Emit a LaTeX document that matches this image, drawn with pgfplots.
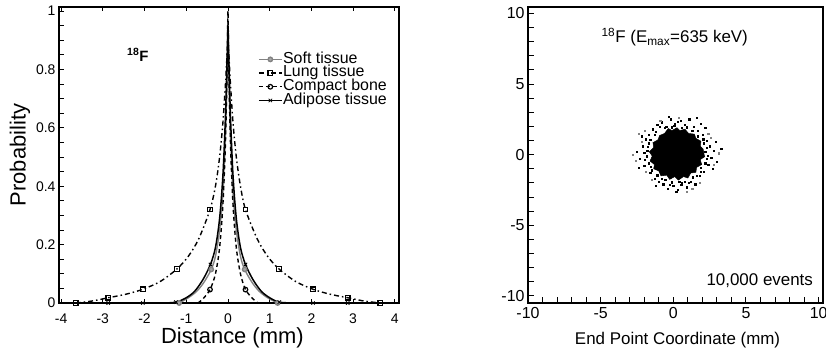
\documentclass[border=0pt]{standalone}
\usepackage{fontspec}
\setmainfont{Liberation Sans}
\usepackage{pgfplots}
\pgfplotsset{compat=1.18}
\definecolor{softgray}{RGB}{130,130,130}
\begin{document}
\begin{tikzpicture}
\useasboundingbox (0,0) rectangle (826bp,356bp);
% ---------------- left panel ----------------
\begin{axis}[
  at={(59bp,53bp)}, anchor=south west,
  scale only axis, width=340bp, height=296bp,
  xmin=-4.05, xmax=4.1, ymin=0, ymax=1.014,
  axis line style={line width=1.5bp},
  tick align=inside,
  xtick={-4,-3,...,4}, ytick={0,0.2,...,1.0},
  minor y tick num=3,
  xtick pos=both, ytick pos=left,
  major tick length=4.5bp, minor tick length=4.5bp,
  every tick/.style={black, line width=0.9bp},
  xticklabel={\hbox{\fontsize{14}{16}\selectfont\pgfmathprintnumber[assume math mode=true]{\tick}}},
  yticklabel={\hbox{\fontsize{14}{16}\selectfont\pgfmathprintnumber[assume math mode=true]{\tick}}},
  xticklabel style={yshift=-7bp},
  xlabel={Distance (mm)}, ylabel={Probability},
  label style={font=\fontsize{22}{24}\selectfont},
  xlabel style={at={(axis description cs:0.51,-0.117)}, anchor=center},
  ylabel style={at={(axis description cs:-0.115,0.5)}, anchor=center},
  clip=true,
  legend cell align=left,
  legend style={at={(axis description cs:0.585,0.846)}, anchor=north west,
    draw=none, fill=none, font=\fontsize{16}{16}\selectfont,
    row sep=0.5bp, inner sep=0pt, nodes={inner sep=0.5bp, text height=9.8bp, text depth=2.4bp}},
  legend image code/.code={\draw[#1, mark indices={2}] plot coordinates {(0bp,0bp) (11.5bp,0bp) (23bp,0bp)};},
]
% Soft tissue
\addplot[softgray, line width=1.4bp, smooth, tension=0.5, mark=*, mark size=2.2bp,
  mark options={solid, fill=softgray!70, draw=softgray}, mark indices={1,5,17,21}]
  coordinates {(-1.17,0) (-0.95,0.018) (-0.75,0.04) (-0.58,0.07) (-0.40,0.115) (-0.3,0.16)
  (-0.2,0.25) (-0.12,0.38) (-0.06,0.58) (-0.02,0.78) (0,0.85) (0.02,0.78) (0.06,0.58)
  (0.12,0.38) (0.2,0.25) (0.3,0.16) (0.40,0.115) (0.58,0.07) (0.75,0.04) (0.95,0.018) (1.19,0)};
\addlegendentry{Soft tissue}
% Lung tissue
\addplot[black, line width=1.4bp, dash pattern=on 5bp off 3bp on 1.5bp off 3bp, smooth, tension=0.5,
  mark=square, mark size=2.3bp, mark options={solid, line width=1.2bp},
  mark indices={1,3,5,7,10,20,23,25,27,29}]
  coordinates {(-3.65,0) (-3.25,0.007) (-2.87,0.018) (-2.45,0.03) (-2.04,0.047) (-1.62,0.074)
  (-1.22,0.117) (-0.95,0.16) (-0.7,0.22) (-0.43,0.32) (-0.3,0.40) (-0.2,0.50) (-0.12,0.62)
  (-0.06,0.75) (0,0.88) (0.06,0.75) (0.12,0.62) (0.2,0.5) (0.3,0.4) (0.42,0.32) (0.7,0.22)
  (0.95,0.16) (1.22,0.117) (1.62,0.074) (2.04,0.047) (2.45,0.03) (2.87,0.018) (3.25,0.007) (3.65,0)};
\addlegendentry{Lung tissue}
% Compact bone
\addplot[black, line width=1.4bp, dash pattern=on 4bp off 3bp, smooth, tension=0.5,
  mark=o, mark size=2.3bp, mark options={solid, line width=1.2bp}, mark indices={3,15}]
  coordinates {(-0.72,0) (-0.6,0.014) (-0.43,0.046) (-0.3,0.1) (-0.2,0.19) (-0.12,0.34)
  (-0.06,0.55) (-0.02,0.8) (0,1.0) (0.02,0.8) (0.06,0.55) (0.12,0.34) (0.2,0.19) (0.3,0.1)
  (0.42,0.046) (0.6,0.014) (0.72,0)};
\addlegendentry{Compact bone}
% Adipose tissue
\addplot[black, line width=1.5bp, smooth, tension=0.5,
  mark=x, mark size=2.4bp, mark options={solid, line width=0.8bp}, mark indices={1,2,4,8,20,24,26,27}]
  coordinates {(-2.87,0) (-2.04,0) (-1.6,0) (-1.25,0.003) (-1.0,0.018) (-0.8,0.04) (-0.6,0.08)
  (-0.42,0.132) (-0.3,0.19) (-0.2,0.29) (-0.12,0.44) (-0.06,0.64) (-0.02,0.84) (0,0.95)
  (0.02,0.84) (0.06,0.64) (0.12,0.44) (0.2,0.29) (0.3,0.19) (0.42,0.132) (0.6,0.08) (0.8,0.04)
  (1.0,0.018) (1.23,0.003) (1.6,0) (2.04,0) (2.87,0)};
\addlegendentry{Adipose tissue}
\node[font=\fontsize{15}{17}\selectfont\bfseries] at (axis cs:-2.16,0.85) {\textsuperscript{18}F};
\end{axis}
% ---------------- right panel ----------------
\begin{axis}[
  at={(528bp,53bp)}, anchor=south west,
  scale only axis, width=295bp, height=296bp,
  xmin=-10, xmax=10.3, ymin=-10.5, ymax=10.45,
  axis line style={line width=1.5bp},
  tick align=inside,
  xtick={-10,-5,...,10}, ytick={-10,-5,...,10},
  minor tick num=4,
  xtick pos=bottom, ytick pos=left,
  major tick length=6bp, minor tick length=6bp,
  every tick/.style={black, line width=1bp},
  xticklabel={\hbox{\fontsize{16}{18}\selectfont\pgfmathprintnumber[assume math mode=true]{\tick}}},
  yticklabel={\hbox{\fontsize{16}{18}\selectfont\pgfmathprintnumber[assume math mode=true]{\tick}}},
  xticklabel style={yshift=-1bp},
  xlabel={End Point Coordinate (mm)},
  xlabel style={font=\fontsize{17}{19}\selectfont, at={(axis description cs:0.507,-0.125)}, anchor=center},
  clip=true,
]
% dense core of the end-point cloud
\addplot[fill=black, draw=black, line width=0.5bp] coordinates {
  (2.1,0.1) (2.05,0.4) (1.85,0.6) (1.9,0.95) (1.55,1.15) (1.45,1.45) (1.05,1.5) (0.8,1.8)
  (0.45,1.7) (0.25,1.9) (-0.1,1.7) (-0.35,1.85) (-0.6,1.5) (-0.95,1.35) (-1.05,1.05)
  (-1.4,0.85) (-1.35,0.5) (-1.65,0.2) (-1.45,-0.1) (-1.6,-0.45) (-1.3,-0.7) (-1.35,-1.0)
  (-1.0,-1.15) (-0.85,-1.5) (-0.45,-1.45) (-0.25,-1.75) (0.1,-1.55) (0.35,-1.8) (0.7,-1.55)
  (1.0,-1.65) (1.2,-1.3) (1.55,-1.25) (1.6,-0.9) (1.95,-0.7) (1.85,-0.35) (2.15,-0.15)} -- cycle;
% sparse outer events
\addplot[only marks, mark=square*, mark size=0.65bp, black] coordinates {
  (-2.5,0.2) (-2.3,-0.3) (-2.1,0.6) (-2.0,-0.8) (-1.9,1.1) (-1.8,0.3) (-1.85,-0.1) (-1.7,1.4)
  (-1.6,-1.3) (-1.4,1.8) (-1.3,-1.7) (-1.1,2.1) (-1.0,-1.9) (-0.8,2.3) (-0.7,-2.1) (-0.5,2.0)
  (-0.4,-2.4) (-0.2,2.5) (0.0,-2.2) (0.1,2.2) (0.3,-2.5) (0.5,2.4) (0.6,-2.0) (0.8,2.1)
  (0.9,-2.3) (1.1,2.5) (1.2,-1.9) (1.4,2.0) (1.5,-2.1) (1.7,1.7) (1.8,-1.5) (2.0,1.4)
  (2.1,-1.2) (2.3,1.0) (2.4,-0.7) (2.5,0.6) (2.6,-0.2) (2.8,0.3) (3.0,-0.5) (3.3,0.4)
  (2.9,0.9) (2.7,-1.0) (2.2,1.9) (1.9,2.2) (-2.2,1.3) (-2.4,-0.9) (-1.2,-2.2) (0.2,-2.6)
  (1.6,2.6) (-0.3,2.7) (2.2,0.2) (2.3,-0.3) (-1.7,0.8) (-1.7,-0.6) (0.6,1.9) (-0.1,1.95)
  (1.3,1.7) (1.6,-1.5) (0.4,-1.9) (-0.8,-1.7) (-1.3,1.4) (2.1,0.8) (1.9,-0.9)
  (-1.75,0.55) (-1.6,1.05) (-1.55,-0.85) (-1.2,1.6) (-0.6,1.9) (0.05,2.05) (0.9,1.95)
  (1.7,1.3) (2.05,1.1) (2.3,0.5) (2.35,-0.05) (2.2,-0.6) (1.9,-1.2) (1.35,-1.6) (0.8,-1.9)
  (-0.1,-1.95) (-0.55,-1.75) (-1.1,-1.45) (-1.5,-1.1) (-1.95,-0.35) (-2.0,0.15)
  (0.55,-2.15) (-0.25,-2.15) (1.05,-2.0) (-0.95,2.0) (0.3,2.35)};
\addplot[only marks, mark=square*, mark size=0.55bp, gray] coordinates {
  (-2.6,-0.4) (-2.2,0.9) (-1.9,-1.2) (-1.5,-1.8) (-0.9,2.4) (0.4,2.6) (1.3,-2.4) (2.4,1.5)
  (2.8,-0.7) (3.1,0.1) (-2.0,1.7) (0.9,-2.6) (-2.8,0.0) (-2.4,1.5) (1.8,-2.0) (2.6,1.2)};
\node[font=\fontsize{17}{19}\selectfont] at (axis cs:0.1,8.3) {\textsuperscript{18}F (E\textsubscript{max}=635 keV)};
\node[font=\fontsize{17}{19}\selectfont, anchor=east] at (axis cs:9.85,-8.95) {10,000 events};
\end{axis}
\end{tikzpicture}
\end{document}
